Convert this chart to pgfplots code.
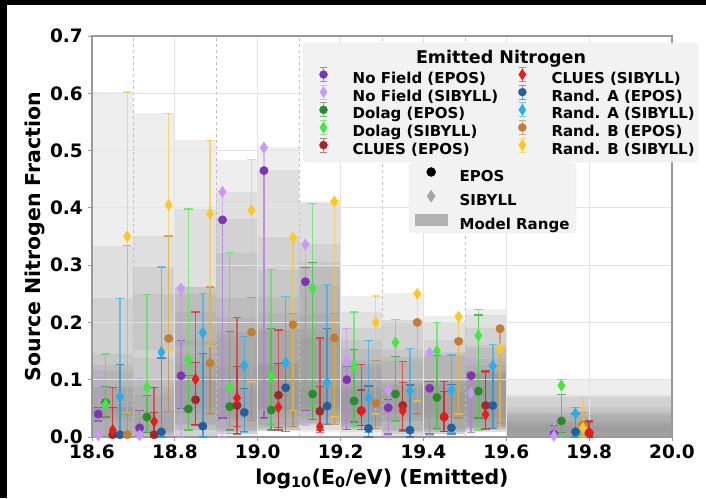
\documentclass[border=0pt]{standalone}
\usepackage{fontspec}
\setmainfont{DejaVu Sans}
\usepackage{pgfplots}
\usepackage{pgfplotstable}
\pgfplotsset{compat=1.18}

\definecolor{cNFE}{RGB}{128,52,180}
\definecolor{cNFS}{RGB}{205,150,250}
\definecolor{cDE}{RGB}{40,140,40}
\definecolor{cDS}{RGB}{60,235,60}
\definecolor{cCE}{RGB}{160,40,40}
\definecolor{cCS}{RGB}{240,25,25}
\definecolor{cAE}{RGB}{35,95,160}
\definecolor{cAS}{RGB}{35,175,240}
\definecolor{cBE}{RGB}{195,125,50}
\definecolor{cBS}{RGB}{255,200,30}

% x = plotted position, y = value, lo/hi = error range, c = bin centre
\pgfplotstableread{
x y lo hi c
18.615 0.040 0.028 0.052 18.65
18.715 0.016 0.003 0.046 18.75
18.815 0.107 0.050 0.168 18.85
18.915 0.379 0.033 0.380 18.95
19.015 0.465 0.033 0.466 19.05
19.115 0.271 0.046 0.296 19.15
19.215 0.100 0.013 0.123 19.25
19.315 0.051 0.005 0.065 19.35
19.415 0.085 0.005 0.097 19.45
19.515 0.107 0.008 0.110 19.55
19.715 0.005 0.000 0.020 19.80
}\tNFE
\pgfplotstableread{
x y lo hi c
18.615 0.003 0.000 0.115 18.65
18.715 0.003 0.000 0.102 18.75
18.815 0.259 0.000 0.262 18.85
18.915 0.428 0.000 0.428 18.95
19.015 0.505 0.047 0.506 19.05
19.115 0.336 0.021 0.337 19.15
19.215 0.133 0.021 0.190 19.25
19.315 0.082 0.002 0.085 19.35
19.415 0.147 0.003 0.149 19.45
19.515 0.077 0.008 0.136 19.55
19.715 0.002 0.000 0.037 19.80
}\tNFS
\pgfplotstableread{
x y lo hi c
18.6325 0.060 0.035 0.088 18.65
18.7325 0.035 0.008 0.073 18.75
18.8325 0.049 0.012 0.107 18.85
18.9325 0.053 0.012 0.184 18.95
19.0325 0.047 0.012 0.189 19.05
19.1325 0.075 0.030 0.305 19.15
19.2325 0.063 0.026 0.153 19.25
19.3325 0.075 0.028 0.140 19.35
19.4325 0.069 0.015 0.142 19.45
19.5325 0.080 0.033 0.213 19.55
19.733 0.028 0.008 0.074 19.80
}\tDE
\pgfplotstableread{
x y lo hi c
18.6325 0.057 0.003 0.145 18.65
18.7325 0.087 0.010 0.249 18.75
18.8325 0.134 0.012 0.398 18.85
18.9325 0.087 0.006 0.322 18.95
19.0325 0.105 0.021 0.292 19.05
19.1325 0.260 0.053 0.408 19.15
19.2325 0.124 0.018 0.218 19.25
19.3325 0.165 0.028 0.205 19.35
19.4325 0.150 0.013 0.200 19.45
19.5325 0.177 0.012 0.223 19.55
19.733 0.090 0.000 0.100 19.80
}\tDS
\pgfplotstableread{
x y lo hi c
18.65 0.004 0.000 0.052 18.65
18.75 0.004 0.000 0.043 18.75
18.85 0.065 0.022 0.130 18.85
18.95 0.055 0.005 0.123 18.95
19.05 0.073 0.012 0.128 19.05
19.15 0.045 0.012 0.088 19.15
19.25 0.046 0.020 0.082 19.25
19.35 0.055 0.012 0.095 19.35
19.45 0.035 0.010 0.079 19.45
19.55 0.055 0.015 0.115 19.55
19.80 0.007 0.000 0.028 19.80
}\tCE
\pgfplotstableread{
x y lo hi c
18.65 0.012 0.000 0.087 18.65
18.75 0.027 0.005 0.087 18.75
18.85 0.101 0.021 0.218 18.85
18.95 0.068 0.018 0.208 18.95
19.05 0.052 0.016 0.187 19.05
19.15 0.018 0.008 0.173 19.15
19.25 0.045 0.013 0.127 19.25
19.35 0.046 0.010 0.132 19.35
19.45 0.036 0.009 0.097 19.45
19.55 0.039 0.013 0.112 19.55
19.80 0.008 0.000 0.025 19.80
}\tCS
\pgfplotstableread{
x y lo hi c
18.6675 0.004 0.000 0.126 18.65
18.7675 0.009 0.000 0.138 18.75
18.8675 0.019 0.000 0.146 18.85
18.9675 0.043 0.010 0.085 18.95
19.0675 0.086 0.010 0.130 19.05
19.1675 0.054 0.022 0.189 19.15
19.2675 0.015 0.000 0.089 19.25
19.3675 0.012 0.000 0.091 19.35
19.4675 0.016 0.005 0.092 19.45
19.5675 0.055 0.015 0.125 19.55
19.767 0.009 0.000 0.040 19.80
}\tAE
\pgfplotstableread{
x y lo hi c
18.6675 0.070 0.000 0.242 18.65
18.7675 0.148 0.000 0.297 18.75
18.8675 0.182 0.000 0.250 18.85
18.9675 0.125 0.008 0.175 18.95
19.0675 0.130 0.010 0.245 19.05
19.1675 0.095 0.024 0.266 19.15
19.2675 0.068 0.008 0.169 19.25
19.3675 0.080 0.008 0.154 19.35
19.4675 0.082 0.008 0.143 19.45
19.5675 0.124 0.016 0.161 19.55
19.767 0.041 0.000 0.052 19.80
}\tAS
\pgfplotstableread{
x y lo hi c
18.685 0.004 0.000 0.334 18.65
18.785 0.172 0.044 0.351 18.75
18.885 0.129 0.040 0.262 18.85
18.985 0.183 0.029 0.243 18.95
19.085 0.196 0.018 0.216 19.05
19.185 0.173 0.022 0.215 19.15
19.285 0.059 0.015 0.134 19.25
19.385 0.200 0.040 0.203 19.35
19.485 0.167 0.033 0.170 19.45
19.585 0.189 0.024 0.190 19.55
19.785 0.021 0.000 0.043 19.80
}\tBE
\pgfplotstableread{
x y lo hi c
18.685 0.350 0.043 0.602 18.65
18.785 0.405 0.152 0.565 18.75
18.885 0.390 0.158 0.518 18.85
18.985 0.396 0.096 0.484 18.95
19.085 0.348 0.046 0.350 19.05
19.185 0.411 0.035 0.412 19.15
19.285 0.200 0.040 0.246 19.25
19.385 0.250 0.063 0.252 19.35
19.485 0.210 0.040 0.212 19.45
19.585 0.154 0.017 0.155 19.55
19.785 0.016 0.000 0.069 19.80
}\tBS

\pgfplotsset{
  rect/.style={forget plot, draw=none, mark=none,
    error bars/y dir=both, error bars/y explicit, error bars/error mark=none,
    error bars/error bar style={draw=gray, line width=#1, opacity=0.13}},
  ptE/.style={only marks, mark=*, mark size=4.2pt, color=#1,
    mark options={solid, fill=#1, draw=#1},
    error bars/y dir=both, error bars/y explicit, error bars/error mark=-,
    error bars/error mark options={rotate=90, mark size=4.2pt, line width=1.3pt, draw=#1, opacity=0.65},
    error bars/error bar style={line width=1.4pt, draw=#1, opacity=0.6}},
  ptS/.style={only marks, mark=diamond*, mark size=5.7pt, color=#1,
    mark options={solid, fill=#1, draw=#1, xscale=0.85},
    error bars/y dir=both, error bars/y explicit, error bars/error mark=-,
    error bars/error mark options={rotate=90, mark size=4.2pt, line width=1.3pt, draw=#1, opacity=0.65},
    error bars/error bar style={line width=1.4pt, draw=#1, opacity=0.6}},
  frame/.style={at={(92pt,61pt)}, anchor=south west,
    width=580pt, height=401pt, scale only axis},
}

\newcommand{\rects}[1]{%
  \addplot[rect=41.43pt, restrict x to domain=18.5:19.65] table[x=c, y=y,
     y error plus expr=\thisrow{hi}-\thisrow{y}, y error minus expr=\thisrow{y}-\thisrow{lo}] {#1};
  \addplot[rect=165.71pt, restrict x to domain=19.7:19.9] table[x=c, y=y,
     y error plus expr=\thisrow{hi}-\thisrow{y}, y error minus expr=\thisrow{y}-\thisrow{lo}] {#1};
}
\newcommand{\pts}[3]{%
  \addplot[#2=#3] table[x=x, y=y,
     y error plus expr=\thisrow{hi}-\thisrow{y}, y error minus expr=\thisrow{y}-\thisrow{lo}] {#1};
}
\newcommand{\legC}[1]{%
  \addlegendimage{legend image code/.code={%
    \draw[#1, opacity=0.6, line width=1.2pt] (0pt,-1.7pt)--(0pt,12.3pt) (-3.5pt,-1.7pt)--(3.5pt,-1.7pt) (-3.5pt,12.3pt)--(3.5pt,12.3pt);
    \fill[#1] (0pt,5.3pt) circle[radius=4pt];
    \path (-5pt,0pt) (5pt,0pt);}}}
\newcommand{\legD}[1]{%
  \addlegendimage{legend image code/.code={%
    \draw[#1, opacity=0.6, line width=1.2pt] (0pt,-1.7pt)--(0pt,12.3pt) (-3.5pt,-1.7pt)--(3.5pt,-1.7pt) (-3.5pt,12.3pt)--(3.5pt,12.3pt);
    \fill[#1] (0pt,10.8pt)--(3.6pt,5.3pt)--(0pt,-0.2pt)--(-3.6pt,5.3pt)--cycle;
    \path (-5pt,0pt) (5pt,0pt);}}}

\begin{document}
\begin{tikzpicture}[x=1pt,y=1pt]
\fill[black] (0,0) rectangle (706,498);
\fill[white] (7,0) rectangle (706,493);
% model ranges (below the grid)
\begin{axis}[frame, hide axis, xmin=18.6, xmax=20.0, ymin=0, ymax=0.7]
\rects{\tNFE}\rects{\tNFS}\rects{\tDE}\rects{\tDS}\rects{\tCE}
\rects{\tCS}\rects{\tAE}\rects{\tAS}\rects{\tBE}\rects{\tBS}
\end{axis}
% main axis
\begin{axis}[frame,
  xmin=18.6, xmax=20.0, ymin=0, ymax=0.7,
  xtick={18.6,18.8,19.0,19.2,19.4,19.6,19.8,20.0},
  xticklabels={18.6,18.8,19.0,19.2,19.4,19.6,19.8,20.0},
  ytick={0,0.1,0.2,0.3,0.4,0.5,0.6,0.7},
  yticklabels={0.0,0.1,0.2,0.3,0.4,0.5,0.6,0.7},
  minor xtick={18.7,18.9,19.1,19.3,19.5},
  xmajorgrids, ymajorgrids, xminorgrids,
  major grid style={draw=black!11, line width=1.1pt},
  minor grid style={draw=black!25, dashed, line width=0.5pt},
  minor tick length=0pt,
  tick pos=left, tick align=outside, major tick length=4pt,
  tick style={draw=black!40, line width=1pt},
  axis line style={draw=black!40, line width=1.2pt},
  tick label style={font=\fontsize{18.5}{20}\selectfont\bfseries, text=black},
  yticklabel style={anchor=east, inner sep=0pt, xshift=-5pt},
  xticklabel style={anchor=north, inner sep=0pt, yshift=-4pt},
  label style={font=\fontsize{20.5}{24}\selectfont\bfseries},
  xlabel={log\textsubscript{10}(E\textsubscript{0}/eV) (Emitted)},
  ylabel={Source Nitrogen Fraction},
  xlabel style={at={(axis description cs:0.5,-0.118)}, anchor=base},
  ylabel style={at={(axis description cs:-0.099,0.5)}, anchor=center},
]
\pts{\tNFE}{ptE}{cNFE}
\pts{\tNFS}{ptS}{cNFS}
\pts{\tDE}{ptE}{cDE}
\pts{\tDS}{ptS}{cDS}
\pts{\tCE}{ptE}{cCE}
\pts{\tCS}{ptS}{cCS}
\pts{\tAE}{ptE}{cAE}
\pts{\tAS}{ptS}{cAS}
\pts{\tBE}{ptE}{cBE}
\pts{\tBS}{ptS}{cBS}
\end{axis}

\fill[black!5, draw=black!9, rounded corners=4pt] (303,336) rectangle (698,455);
\fill[black!5, draw=black!9, rounded corners=4pt] (409,265) rectangle (576,335);
\node[font=\fontsize{17.5}{20}\selectfont\bfseries, anchor=base, inner sep=0pt] at (501,434.7) {Emitted Nitrogen};

\begin{axis}[frame, hide axis,
  xmin=0, xmax=1, ymin=0, ymax=1,
  legend columns=2, legend cell align=left,
  legend style={at={(0.3902,0.9229)}, anchor=north west, draw=none, fill=none,
    inner sep=0pt, outer sep=0pt,
    font=\fontsize{15}{18}\selectfont\bfseries,
    nodes={inner sep=0pt, text height=11pt, text depth=3.5pt},
    row sep=-2.5pt,
    /tikz/every odd column/.append style={column sep=24pt},
    /tikz/every even column/.append style={column sep=19pt}},
]
\legC{cNFE}\addlegendentry{No Field (EPOS)}
\legD{cCS}\addlegendentry{CLUES (SIBYLL)}
\legD{cNFS}\addlegendentry{No Field (SIBYLL)}
\legC{cAE}\addlegendentry{Rand. A (EPOS)}
\legC{cDE}\addlegendentry{Dolag (EPOS)}
\legD{cAS}\addlegendentry{Rand. A (SIBYLL)}
\legD{cDS}\addlegendentry{Dolag (SIBYLL)}
\legC{cBE}\addlegendentry{Rand. B (EPOS)}
\legC{cCE}\addlegendentry{CLUES (EPOS)}
\legD{cBS}\addlegendentry{Rand. B (SIBYLL)}
\end{axis}

\begin{axis}[frame, hide axis,
  xmin=0, xmax=1, ymin=0, ymax=1,
  legend columns=1, legend cell align=left,
  legend style={at={(0.5572,0.6726)}, anchor=north west, draw=none, fill=none,
    inner sep=0pt, outer sep=0pt,
    font=\fontsize{15}{18}\selectfont\bfseries,
    nodes={inner sep=0pt, text height=11pt, text depth=3.5pt},
    row sep=5.5pt,
    /tikz/every odd column/.append style={column sep=12.5pt}},
]
\addlegendimage{legend image code/.code={\fill[black] (0pt,5.3pt) circle[radius=4.5pt]; \path (-15.8pt,0pt) (15.8pt,0pt);}}
\addlegendentry{EPOS}
\addlegendimage{legend image code/.code={\fill[black!35] (0pt,11.3pt)--(4pt,5.3pt)--(0pt,-0.7pt)--(-4pt,5.3pt)--cycle; \path (-15.8pt,0pt) (15.8pt,0pt);}}
\addlegendentry{SIBYLL}
\addlegendimage{legend image code/.code={\fill[black!30] (-15.8pt,-0.2pt) rectangle (15.8pt,10.8pt);}}
\addlegendentry{Model Range}
\end{axis}
\pgfresetboundingbox
\path (0,0) rectangle (706,498);
\end{tikzpicture}
\end{document}
